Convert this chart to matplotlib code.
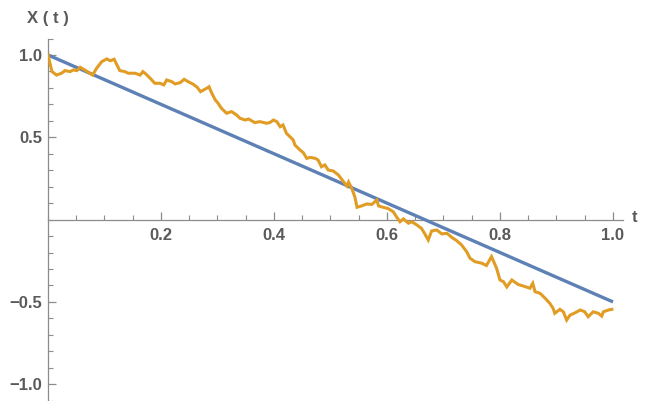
import matplotlib
matplotlib.use("Agg")
import matplotlib.pyplot as plt
from matplotlib.ticker import MultipleLocator, FixedLocator, FuncFormatter

# Data
t_path = [0.000, 0.007, 0.015, 0.024, 0.030, 0.039, 0.045, 0.051, 0.057, 0.065,
          0.074, 0.079, 0.086, 0.095, 0.104, 0.110, 0.117, 0.123, 0.127, 0.136,
          0.142, 0.154, 0.163, 0.168, 0.173, 0.181, 0.189, 0.198, 0.205, 0.210,
          0.219, 0.225, 0.234, 0.241, 0.248, 0.257, 0.264, 0.270, 0.281, 0.285,
          0.290, 0.296, 0.301, 0.307, 0.316, 0.325, 0.334, 0.340, 0.349, 0.355,
          0.366, 0.375, 0.387, 0.393, 0.399, 0.405, 0.411, 0.416, 0.422, 0.428,
          0.434, 0.437, 0.446, 0.452, 0.458, 0.464, 0.473, 0.478, 0.484, 0.490,
          0.496, 0.505, 0.514, 0.523, 0.529, 0.532, 0.538, 0.543, 0.547, 0.555,
          0.564, 0.573, 0.582, 0.585, 0.593, 0.602, 0.611, 0.617, 0.623, 0.629,
          0.638, 0.644, 0.653, 0.661, 0.667, 0.673, 0.679, 0.688, 0.697, 0.706,
          0.715, 0.723, 0.732, 0.741, 0.747, 0.756, 0.768, 0.776, 0.785, 0.794,
          0.800, 0.806, 0.812, 0.821, 0.832, 0.841, 0.853, 0.858, 0.862, 0.871,
          0.880, 0.888, 0.894, 0.897, 0.906, 0.912, 0.918, 0.924, 0.933, 0.942,
          0.950, 0.956, 0.965, 0.974, 0.980, 0.983, 0.992, 0.998]
x_path = [1.000, 0.899, 0.878, 0.889, 0.905, 0.899, 0.909, 0.905, 0.925, 0.909,
          0.889, 0.878, 0.919, 0.959, 0.976, 0.965, 0.974, 0.933, 0.905, 0.899,
          0.889, 0.889, 0.878, 0.899, 0.885, 0.858, 0.828, 0.828, 0.818, 0.848,
          0.838, 0.824, 0.832, 0.852, 0.838, 0.822, 0.804, 0.777, 0.798, 0.807,
          0.767, 0.727, 0.707, 0.676, 0.646, 0.656, 0.635, 0.615, 0.605, 0.611,
          0.589, 0.595, 0.585, 0.590, 0.605, 0.595, 0.564, 0.575, 0.524, 0.504,
          0.484, 0.453, 0.423, 0.406, 0.372, 0.378, 0.372, 0.362, 0.321, 0.332,
          0.301, 0.295, 0.271, 0.230, 0.204, 0.228, 0.186, 0.139, 0.075, 0.083,
          0.095, 0.092, 0.119, 0.083, 0.075, 0.067, 0.048, 0.016, -0.013, 0.004,
          -0.022, -0.013, -0.033, -0.053, -0.087, -0.124, -0.069, -0.063, -0.087, -0.083,
          -0.109, -0.127, -0.154, -0.195, -0.235, -0.256, -0.265, -0.279, -0.225, -0.296,
          -0.367, -0.377, -0.409, -0.367, -0.394, -0.403, -0.417, -0.387, -0.438, -0.448,
          -0.478, -0.508, -0.539, -0.569, -0.545, -0.560, -0.610, -0.580, -0.566, -0.549,
          -0.560, -0.590, -0.560, -0.569, -0.586, -0.560, -0.549, -0.545]
t_line = [0.0, 1.0]
x_line = [1.0, -0.5]

x_major = [0.2, 0.4, 0.6, 0.8, 1.0]
y_major = [-1.0, -0.5, 0.5, 1.0]

BLUE = "#5E81B5"
ORANGE = "#E19C24"
AX = "#8c8c8c"
LAB = "#5a5a5a"
FS = 12

plt.rcParams['font.family'] = ['Liberation Sans', 'DejaVu Sans']

fig = plt.figure(figsize=(6.45, 4.01), dpi=100)
ax = fig.add_axes([48/645, 0.3/401, 575/645, 362.2/401])
ax.set_xlim(0, 1.0177)
ax.set_ylim(-1.1, 1.1)

ax.plot(t_line, x_line, color=BLUE, lw=2.4, solid_capstyle='butt', zorder=3)
ax.plot(t_path, x_path, color=ORANGE, lw=2.2, solid_joinstyle='miter', zorder=4)

for s in ['top', 'right']:
    ax.spines[s].set_visible(False)
ax.spines['left'].set_position(('data', 0))
ax.spines['bottom'].set_position(('data', 0))
for s in ['left', 'bottom']:
    ax.spines[s].set_color(AX)
    ax.spines[s].set_linewidth(0.9)

ax.xaxis.set_major_locator(FixedLocator(x_major))
ax.xaxis.set_minor_locator(MultipleLocator(0.05))
ax.yaxis.set_major_locator(FixedLocator(y_major))
ax.yaxis.set_minor_locator(MultipleLocator(0.1))
fmt = FuncFormatter(lambda v, p: f"{v:.1f}".replace('-', '\u2212'))
ax.xaxis.set_major_formatter(fmt)
ax.yaxis.set_major_formatter(fmt)

ax.tick_params(axis='both', which='major', direction='in', length=6, width=0.9,
               color=AX, labelcolor=LAB, labelsize=FS)
ax.tick_params(axis='both', which='minor', direction='in', length=3.5, width=0.8, color=AX)
ax.tick_params(axis='x', which='major', pad=6)
ax.tick_params(axis='y', which='major', pad=4)
for lbl in ax.get_xticklabels() + ax.get_yticklabels():
    lbl.set_fontweight('bold')

fig.text(48/645, 1 - 18/401, "X ( t )", ha='center', va='center', color=LAB,
         fontsize=FS, fontweight='bold')
fig.text(632/645, 1 - 217/401, "t", ha='left', va='center', color=LAB,
         fontsize=FS, fontweight='bold')

fig.savefig("out.png", dpi=100)
